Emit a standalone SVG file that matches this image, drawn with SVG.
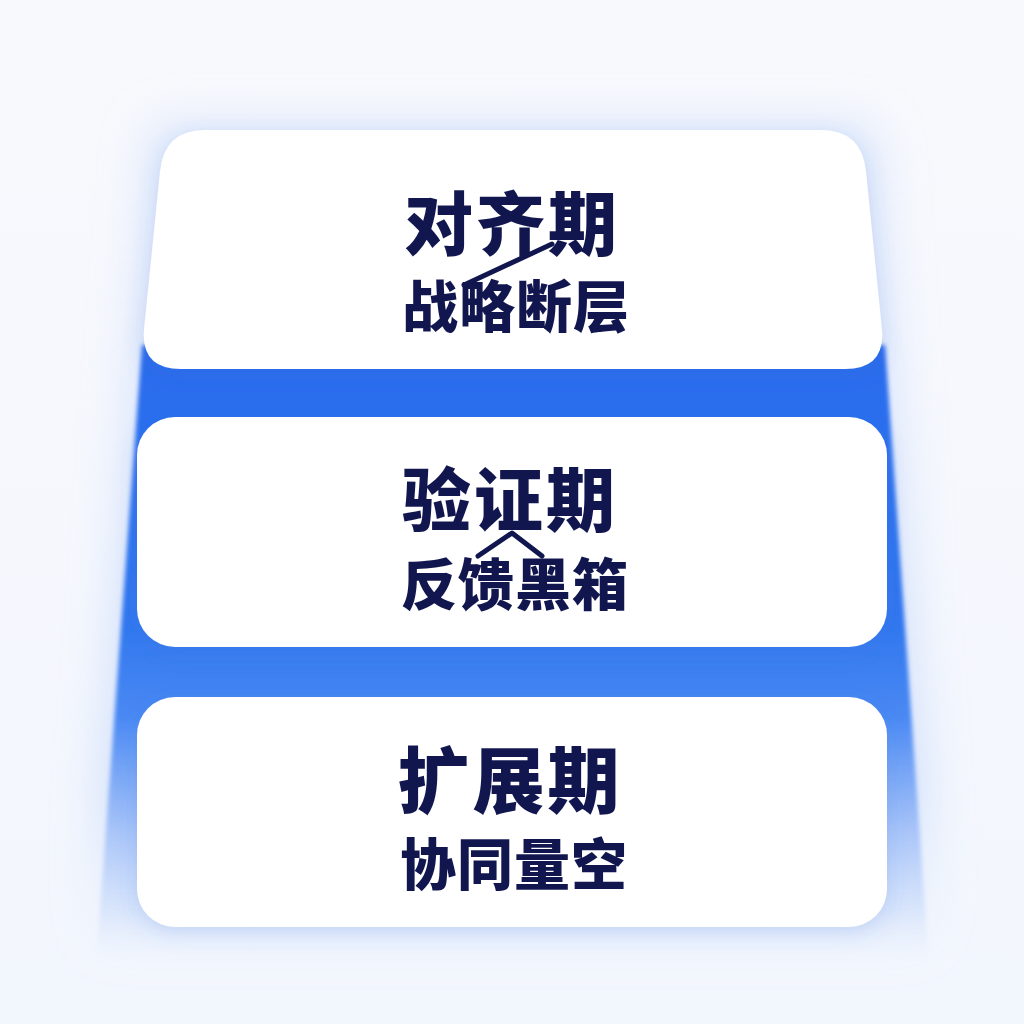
<svg xmlns="http://www.w3.org/2000/svg" width="1024" height="1024" viewBox="0 0 1024 1024">
  <defs>
    <linearGradient id="bg" x1="0" y1="0" x2="0" y2="1">
      <stop offset="0" stop-color="#f8f9fd"/>
      <stop offset="1" stop-color="#f2f6fd"/>
    </linearGradient>
    <linearGradient id="band" x1="0" y1="345" x2="0" y2="965" gradientUnits="userSpaceOnUse">
      <stop offset="0" stop-color="#2a6bec"/>
      <stop offset="0.45" stop-color="#3177ef"/>
      <stop offset="0.6" stop-color="#4a89f3"/>
      <stop offset="0.78" stop-color="#a3c1f8" stop-opacity="0.95"/>
      <stop offset="0.91" stop-color="#cfdffb" stop-opacity="0.7"/>
      <stop offset="1" stop-color="#e8f0fd" stop-opacity="0"/>
    </linearGradient>
    <linearGradient id="glowg" x1="0" y1="0" x2="0" y2="1">
      <stop offset="0" stop-color="#c9daf9"/>
      <stop offset="0.8" stop-color="#bcd1fa"/>
      <stop offset="1" stop-color="#dce7fc" stop-opacity="0"/>
    </linearGradient>
    <filter id="glow" x="-20%" y="-20%" width="140%" height="140%">
      <feGaussianBlur stdDeviation="24"/>
    </filter>
    <filter id="soft" x="-5%" y="-5%" width="110%" height="110%">
      <feGaussianBlur stdDeviation="2"/>
    </filter>
    <filter id="shadow" x="-10%" y="-20%" width="120%" height="150%">
      <feDropShadow dx="0" dy="6" stdDeviation="10" flood-color="#3a6fd8" flood-opacity="0.18"/>
    </filter>
  </defs>
  <style>
    .card { fill: #ffffff; filter: url(#shadow); }
    .t1 { font-family: "Noto Sans CJK SC", "Noto Sans", sans-serif; font-weight: 900; fill: #11164f; text-anchor: middle; }
    .big { font-size: 69px; letter-spacing: 3px; }
    .small { font-size: 56px; letter-spacing: 1px; }
    .stroke { fill: none; stroke: #11164f; stroke-width: 5; stroke-linecap: round; stroke-linejoin: round; }
  </style>

  <rect width="1024" height="1024" fill="url(#bg)"/>

  <g id="backdrop">
    <polygon points="152,125 874,125 936,960 90,960" fill="url(#glowg)" opacity="0.65" filter="url(#glow)"/>
    <polygon points="142,345 885,345 929,965 96,965" fill="url(#band)" filter="url(#soft)"/>
  </g>

  <g id="node-1">
    <path class="card" d="M205,130 L821,130 Q862,130 866,172 L882,330 Q885,369 845,369 L181,369 Q141,369 144,330 L160,172 Q164,130 205,130 Z"/>
    <text class="t1 big" x="512" y="250">对齐期</text>
    <text class="t1 small" x="516" y="327">战略断层</text>
  </g>

  <g id="node-2">
    <rect class="card" x="137" y="417" width="750" height="230" rx="38"/>
    <text class="t1 big" x="510" y="526">验证期</text>
    <text class="t1 small" x="515" y="605">反馈黑箱</text>
  </g>

  <g id="node-3">
    <rect class="card" x="137" y="697" width="750" height="230" rx="38"/>
    <text class="t1 big" x="510" y="807" style="font-size:72px">扩展期</text>
    <text class="t1 small" x="514" y="885">协同量空</text>
  </g>

  <g id="connectors">
    <path class="stroke" d="M464,285 L552,244"/>
    <path class="stroke" d="M478,556 L512,533 L542,556"/>
  </g>
</svg>
